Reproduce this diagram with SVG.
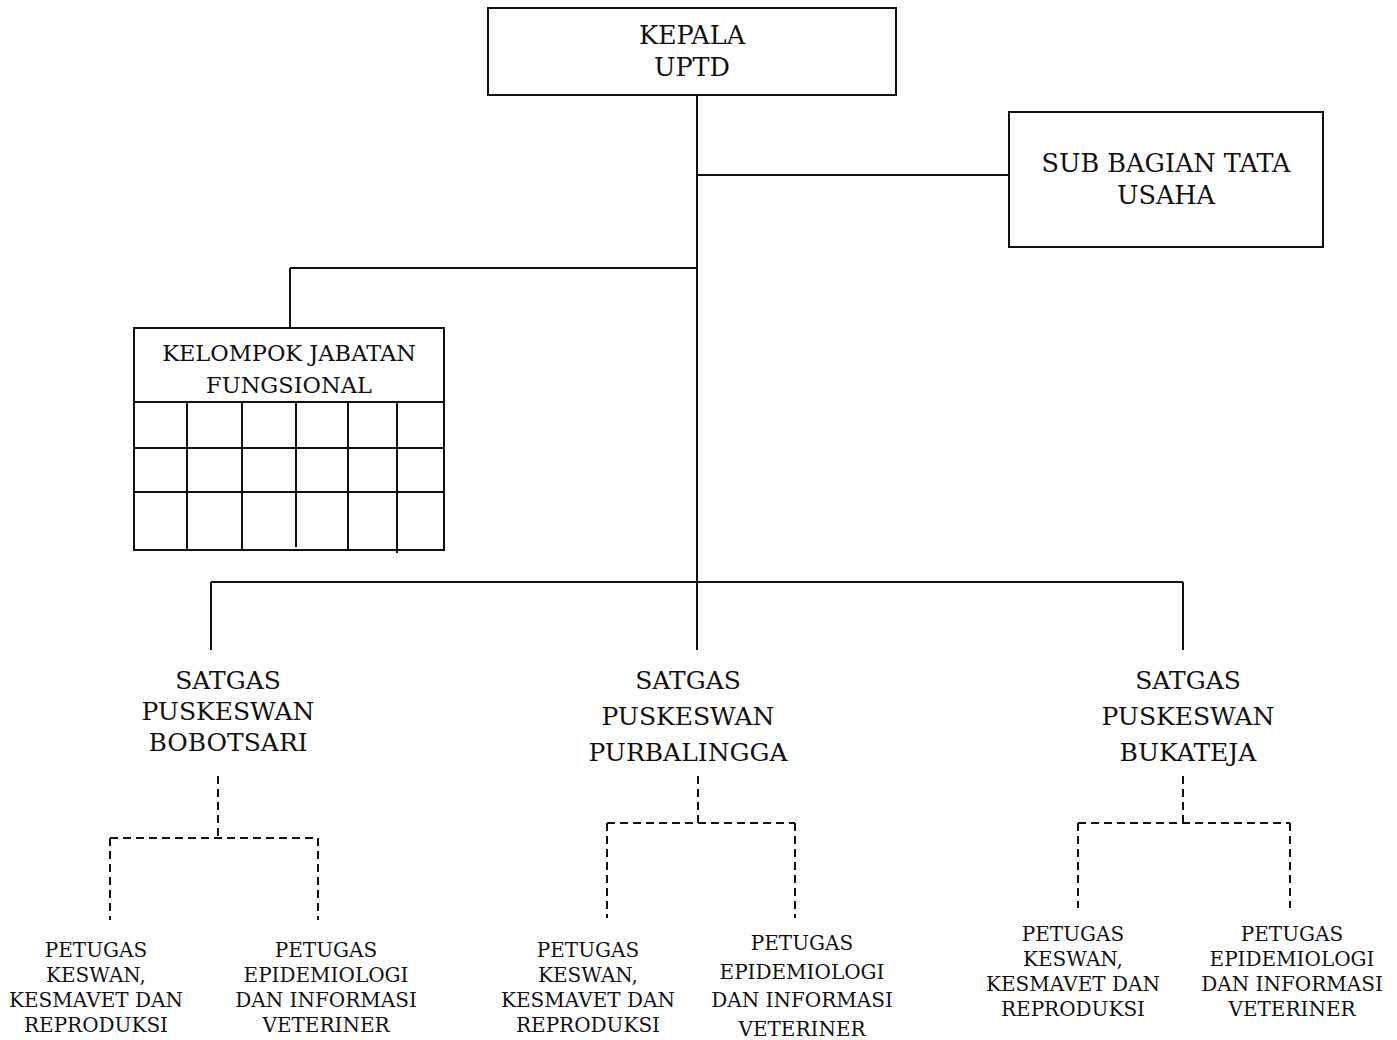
<svg xmlns="http://www.w3.org/2000/svg" width="1397" height="1040" viewBox="0 0 1397 1040">
<style>
text{font-family:"DejaVu Serif","Liberation Serif",serif;fill:#111;text-anchor:middle}
.b{fill:#fff;stroke:#111;stroke-width:2}
.l{stroke:#111;stroke-width:2;fill:none}
.d{stroke:#111;stroke-width:2;fill:none;stroke-dasharray:8 5}
.t1{font-size:25.5px}
.t2{font-size:25px}
.t3{font-size:20px}
.t4{font-size:22.5px}
</style>
<rect width="1397" height="1040" fill="#fff"/>
<g id="connectors">
<path class="l" d="M697 95V582M697 175H1009M290 268H697M290 268V328M211 582H1183M211 582V650M697 582V650M1183 582V650"/>
<path class="d" d="M218 776V838M110 838H318M110 838V920M318 838V920"/>
<path class="d" d="M698 776V823M607 823H795M607 823V918M795 823V918"/>
<path class="d" d="M1183 776V823M1078 823H1290M1078 823V908M1290 823V908"/>
</g>
<g id="kepala">
<rect class="b" x="488" y="8" width="408" height="87"/>
<text class="t1" x="692" y="44">KEPALA</text>
<text class="t1" x="692" y="76">UPTD</text>
</g>
<g id="subbagian">
<rect class="b" x="1009" y="112" width="314" height="135"/>
<text class="t1" x="1166" y="172">SUB BAGIAN TATA</text>
<text class="t1" x="1166" y="204">USAHA</text>
</g>
<g id="kelompok">
<rect class="b" x="134" y="328" width="310" height="222"/>
<path class="l" d="M134 402H444M134 448H444M134 492H444M187 402V550M242 402V550M296 402V547M348 402V550M397 402V553"/>
<text class="t4" x="289" y="361">KELOMPOK JABATAN</text>
<text class="t4" x="289" y="393">FUNGSIONAL</text>
</g>
<g id="satgas-bobotsari">
<text class="t2" x="228" y="689">SATGAS</text>
<text class="t2" x="228" y="720">PUSKESWAN</text>
<text class="t2" x="228" y="751">BOBOTSARI</text>
</g>
<g id="satgas-purbalingga">
<text class="t2" x="688" y="689">SATGAS</text>
<text class="t2" x="688" y="725">PUSKESWAN</text>
<text class="t2" x="688" y="761">PURBALINGGA</text>
</g>
<g id="satgas-bukateja">
<text class="t2" x="1188" y="689">SATGAS</text>
<text class="t2" x="1188" y="725">PUSKESWAN</text>
<text class="t2" x="1188" y="761">BUKATEJA</text>
</g>
<g id="petugas-1a">
<text class="t3" x="96" y="957">PETUGAS</text>
<text class="t3" x="96" y="982">KESWAN,</text>
<text class="t3" x="96" y="1007">KESMAVET DAN</text>
<text class="t3" x="96" y="1032">REPRODUKSI</text>
</g>
<g id="petugas-1b">
<text class="t3" x="326" y="957">PETUGAS</text>
<text class="t3" x="326" y="982">EPIDEMIOLOGI</text>
<text class="t3" x="326" y="1007">DAN INFORMASI</text>
<text class="t3" x="326" y="1032">VETERINER</text>
</g>
<g id="petugas-2a">
<text class="t3" x="588" y="957">PETUGAS</text>
<text class="t3" x="588" y="982">KESWAN,</text>
<text class="t3" x="588" y="1007">KESMAVET DAN</text>
<text class="t3" x="588" y="1032">REPRODUKSI</text>
</g>
<g id="petugas-2b">
<text class="t3" x="802" y="950">PETUGAS</text>
<text class="t3" x="802" y="979">EPIDEMIOLOGI</text>
<text class="t3" x="802" y="1007">DAN INFORMASI</text>
<text class="t3" x="802" y="1036">VETERINER</text>
</g>
<g id="petugas-3a">
<text class="t3" x="1073" y="941">PETUGAS</text>
<text class="t3" x="1073" y="966">KESWAN,</text>
<text class="t3" x="1073" y="991">KESMAVET DAN</text>
<text class="t3" x="1073" y="1016">REPRODUKSI</text>
</g>
<g id="petugas-3b">
<text class="t3" x="1292" y="941">PETUGAS</text>
<text class="t3" x="1292" y="966">EPIDEMIOLOGI</text>
<text class="t3" x="1292" y="991">DAN INFORMASI</text>
<text class="t3" x="1292" y="1016">VETERINER</text>
</g>
</svg>
